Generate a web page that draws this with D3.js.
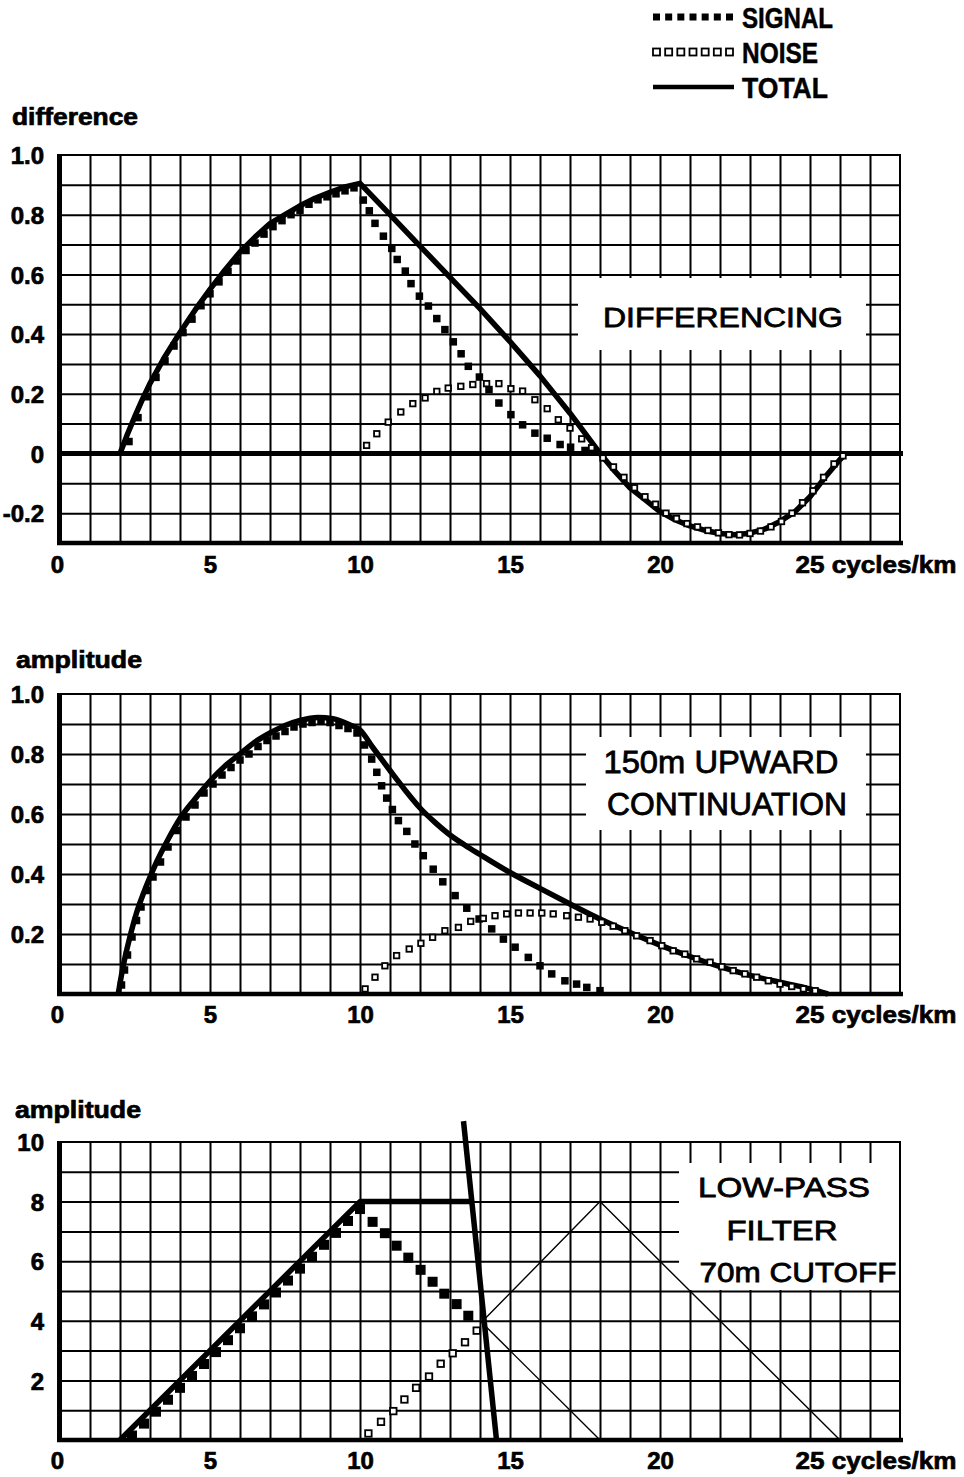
<!DOCTYPE html>
<html><head><meta charset="utf-8">
<script src="https://cdn.jsdelivr.net/npm/d3@7"></script>
<style>body{margin:0;background:#fff;} svg{display:block;}</style>
</head><body><svg id="c" width="964" height="1477"></svg>
<script>
// ---------------- DATA ----------------
const xTicks = [0, 5, 10, 15, 20, 25];
const xTickLabels = ["0", "5", "10", "15", "20", "25 cycles/km"];
const legendItems = ["SIGNAL", "NOISE", "TOTAL"];

// Panel 1: differencing
const p1Title = "difference";
const p1Label = ["DIFFERENCING"];
const p1YTicks = [1.0, 0.8, 0.6, 0.4, 0.2, 0, -0.2];
const p1YTickLabels = ["1.0", "0.8", "0.6", "0.4", "0.2", "0", "-0.2"];
const p1TotalX = [2,2.25,2.5,2.75,3,3.5,4,4.5,5,5.5,6,6.5,7,7.5,8,8.5,9,9.5,10,11,12,13,14,15,16,17,18,18.5,19,19.5,20,20.5,21,21.5,22,22.5,23,23.5,24,24.5,25,25.5,26,26.1];
const p1TotalY = [0,0.065,0.125,0.182,0.235,0.325,0.405,0.48,0.55,0.615,0.675,0.725,0.77,0.80,0.83,0.855,0.875,0.893,0.905,0.80,0.695,0.59,0.485,0.375,0.26,0.135,0,-0.06,-0.115,-0.155,-0.195,-0.222,-0.243,-0.258,-0.268,-0.272,-0.267,-0.253,-0.228,-0.195,-0.145,-0.08,-0.02,-0.01];
const p1SignalX = [2.3,2.6,2.9,3.2,3.5,3.8,4.1,4.4,4.7,5.0,5.3,5.6,5.9,6.2,6.5,6.8,7.1,7.4,7.7,8.0,8.3,8.6,8.9,9.2,9.5,9.8,10.11,10.31,10.5,10.78,11.06,11.24,11.51,11.70,11.98,12.28,12.56,12.83,13.11,13.37,13.61,13.98,14.3,14.63,15.03,15.42,15.83,16.24,16.67,17.02,17.5];
const p1SignalY = [0.04,0.12,0.19,0.255,0.31,0.36,0.405,0.45,0.495,0.535,0.575,0.61,0.645,0.68,0.705,0.735,0.76,0.78,0.80,0.815,0.835,0.85,0.86,0.87,0.88,0.89,0.849,0.813,0.771,0.728,0.687,0.650,0.611,0.569,0.527,0.494,0.452,0.415,0.374,0.334,0.292,0.256,0.214,0.169,0.130,0.096,0.068,0.051,0.030,0.021,0.010];
const p1NoiseX = [10.22,10.56,10.94,11.36,11.76,12.17,12.56,12.94,13.36,13.76,14.22,14.63,15.03,15.42,15.83,16.24,16.61,17.0,17.39,17.72,18.1,18.45,18.8,19.15,19.5,19.85,20.2,20.55,20.9,21.25,21.6,21.95,22.3,22.65,23.0,23.35,23.7,24.05,24.4,24.75,25.1,25.45,25.8,26.1];
const p1NoiseY = [0.027,0.066,0.105,0.139,0.167,0.186,0.208,0.219,0.225,0.231,0.234,0.234,0.217,0.209,0.180,0.150,0.113,0.085,0.049,0.019,-0.015,-0.045,-0.08,-0.115,-0.145,-0.17,-0.2,-0.218,-0.235,-0.246,-0.258,-0.266,-0.272,-0.273,-0.268,-0.26,-0.246,-0.228,-0.2,-0.165,-0.125,-0.08,-0.035,-0.008];

// Panel 2: upward continuation
const p2Title = "amplitude";
const p2Label = ["150m UPWARD", "CONTINUATION"];
const p2YTicks = [1.0, 0.8, 0.6, 0.4, 0.2];
const p2YTickLabels = ["1.0", "0.8", "0.6", "0.4", "0.2"];
const p2TotalX = [1.94,2.1,2.33,2.55,2.78,3.0,3.22,3.6,4,4.5,5,5.5,6,6.5,7,7.5,8,8.6,9.1,9.67,10,10.44,11,11.5,12,12.5,13,13.5,14,15,16,17,18,19,20,21,22,23,24,25,25.6];
const p2TotalY = [0,0.09,0.19,0.27,0.335,0.39,0.44,0.515,0.585,0.65,0.71,0.76,0.80,0.84,0.87,0.895,0.912,0.922,0.918,0.897,0.88,0.82,0.745,0.68,0.62,0.572,0.53,0.496,0.465,0.405,0.352,0.30,0.25,0.205,0.163,0.125,0.091,0.062,0.039,0.017,0];
const p2SignalX = [2.05,2.15,2.25,2.4,2.55,2.7,2.9,3.1,3.35,3.6,3.9,4.2,4.5,4.8,5.1,5.4,5.7,6.0,6.3,6.6,6.9,7.2,7.5,7.8,8.1,8.4,8.7,9.0,9.3,9.6,9.9,10.15,10.39,10.56,10.72,10.89,11.08,11.28,11.56,11.83,12.11,12.44,12.76,13.17,13.56,13.97,14.39,14.78,15.17,15.61,16.0,16.39,16.83,17.22,17.56,18.0];
const p2SignalY = [0.03,0.08,0.13,0.19,0.245,0.29,0.345,0.39,0.44,0.49,0.545,0.59,0.63,0.67,0.70,0.73,0.755,0.78,0.80,0.825,0.845,0.86,0.875,0.89,0.90,0.905,0.91,0.905,0.895,0.885,0.87,0.83,0.783,0.739,0.694,0.653,0.615,0.578,0.542,0.5,0.461,0.416,0.374,0.328,0.286,0.25,0.217,0.183,0.156,0.122,0.094,0.067,0.044,0.033,0.022,0.011];
const p2NoiseX = [10.17,10.5,10.83,11.22,11.64,12.03,12.42,12.83,13.28,13.69,14.11,14.5,14.89,15.28,15.67,16.06,16.44,16.89,17.28,17.67,18.06,18.44,18.83,19.22,19.67,20.06,20.44,20.83,21.22,21.67,22.06,22.44,22.83,23.22,23.61,24.0,24.39,24.78,25.17];
const p2NoiseY = [0.017,0.056,0.094,0.128,0.15,0.169,0.189,0.211,0.222,0.242,0.252,0.261,0.267,0.27,0.27,0.27,0.267,0.261,0.256,0.25,0.239,0.226,0.211,0.194,0.178,0.161,0.144,0.133,0.117,0.106,0.091,0.078,0.067,0.056,0.044,0.033,0.025,0.017,0.011];

// Panel 3: low-pass filter
const p3Title = "amplitude";
const p3Label = ["LOW-PASS", "FILTER", "70m CUTOFF"];
const p3YTicks = [10, 8, 6, 4, 2];
const p3YTickLabels = ["10", "8", "6", "4", "2"];
const p3TotalX = [2, 10, 13.73];
const p3TotalY = [0, 8, 8];
const p3CutoffX = [13.45, 14.55];
const p3CutoffY = [10.7, 0];
const p3AliasAX = [14.05, 18, 26];
const p3AliasAY = [3.95, 8, 0];
const p3AliasBX = [14.05, 18];
const p3AliasBY = [3.95, 0];
const p3SignalX = [2.4,2.8,3.2,3.6,4.0,4.4,4.8,5.2,5.6,6.0,6.4,6.8,7.2,7.6,8.0,8.4,8.8,9.2,9.6,10.0,10.42,10.83,11.22,11.61,12.02,12.42,12.81,13.22,13.61];
const p3SignalY = [0.15,0.55,0.95,1.35,1.75,2.15,2.55,2.95,3.35,3.75,4.15,4.55,4.95,5.35,5.75,6.15,6.55,6.95,7.35,7.75,7.32,6.94,6.52,6.12,5.71,5.31,4.91,4.56,4.17];
const p3NoiseX = [10.28,10.7,11.11,11.48,11.87,12.3,12.69,13.09,13.5,13.89];
const p3NoiseY = [0.22,0.61,0.97,1.36,1.75,2.13,2.56,2.91,3.28,3.67];

// ---------------- DRAWING ----------------
const FONT = "'Liberation Sans', Arial, Helvetica, sans-serif";
const svg = d3.select("#c");
svg.append("rect").attr("width", 964).attr("height", 1477).attr("fill", "#fff");

const x = d3.scaleLinear().domain([0, 28]).range([60, 900]);
const zip = (xs, ys) => xs.map((v, i) => [v, ys[i]]);

// Legend
const legY = d3.scalePoint().domain(legendItems).range([17, 87]);
const legX = d3.scalePoint().domain(d3.range(7)).range([656.5, 729.5]);
const legWidths = {SIGNAL: 91, NOISE: 76, TOTAL: 86};
const leg = svg.append("g");
legendItems.forEach(name => {
  const cy = legY(name);
  if (name === "TOTAL") {
    leg.append("line").attr("x1", 653).attr("x2", 734).attr("y1", cy).attr("y2", cy)
      .attr("stroke", "#000").attr("stroke-width", 4.5);
  } else {
    leg.selectAll(null).data(d3.range(7)).join("rect")
      .attr("x", d => legX(d) - 3.5).attr("y", cy - 3.5)
      .attr("width", 7).attr("height", 7)
      .attr("fill", name === "SIGNAL" ? "#000" : "#fff")
      .attr("stroke", "#000").attr("stroke-width", name === "SIGNAL" ? 0 : 1.8);
  }
  leg.append("text").attr("x", 742).attr("y", cy + 11)
    .attr("font-family", FONT).attr("font-weight", "bold").attr("font-size", 29)
    .attr("stroke", "#000").attr("stroke-width", 0.5)
    .attr("textLength", legWidths[name]).attr("lengthAdjust", "spacingAndGlyphs")
    .text(name);
});

function panel(o) {
  const y = d3.scaleLinear().domain(o.yDomain).range(o.yRange);
  const top = o.yRange[1], bottom = o.yRange[0];
  const g = svg.append("g");

  // vertical grid
  g.append("g").attr("transform", `translate(0,${bottom})`)
    .call(d3.axisBottom(x).tickValues(d3.range(1, 28)).tickSize(-(bottom - top)).tickFormat(""))
    .call(s => s.select(".domain").remove())
    .call(s => s.selectAll("line").attr("stroke", "#000").attr("stroke-width", 2));
  // horizontal grid
  g.append("g").attr("transform", `translate(60,0)`)
    .call(d3.axisLeft(y).tickValues(o.gridY).tickSize(-840).tickFormat(""))
    .call(s => s.select(".domain").remove())
    .call(s => s.selectAll("line").attr("stroke", "#000").attr("stroke-width", 2));
  // top / right border
  g.append("line").attr("x1", 60).attr("x2", 901).attr("y1", top).attr("y2", top)
    .attr("stroke", "#000").attr("stroke-width", 2);
  g.append("line").attr("x1", 900).attr("x2", 900).attr("y1", top).attr("y2", bottom)
    .attr("stroke", "#000").attr("stroke-width", 2);

  // label box (white)
  g.append("rect").attr("x", o.box[0]).attr("y", o.box[1])
    .attr("width", o.box[2] - o.box[0]).attr("height", o.box[3] - o.box[1]).attr("fill", "#fff");

  // thick axes
  g.append("line").attr("x1", 59.5).attr("x2", 59.5).attr("y1", top - 1).attr("y2", bottom + 2)
    .attr("stroke", "#000").attr("stroke-width", 5);
  g.append("line").attr("x1", 57).attr("x2", 903).attr("y1", bottom).attr("y2", bottom)
    .attr("stroke", "#000").attr("stroke-width", 4.5);
  if (o.zeroLine) {
    g.append("line").attr("x1", 57).attr("x2", 903).attr("y1", y(0)).attr("y2", y(0))
      .attr("stroke", "#000").attr("stroke-width", 5);
  }

  // y tick labels
  g.append("g").attr("transform", "translate(60,0)")
    .call(d3.axisLeft(y).tickValues(o.yTicks).tickSize(0).tickPadding(16)
      .tickFormat((d, i) => o.yTickLabels[i]))
    .call(s => s.select(".domain").remove())
    .call(s => s.selectAll("text").attr("font-family", FONT).attr("font-weight", "bold")
      .attr("font-size", 24).attr("fill", "#000").attr("stroke", "#000").attr("stroke-width", 0.7)
      .attr("dy", "0.36em"));

  // x tick labels
  g.append("g").attr("transform", `translate(0,${bottom})`)
    .call(d3.axisBottom(x).tickValues(xTicks).tickSize(0).tickPadding(o.xPad)
      .tickFormat((d, i) => xTickLabels[i]))
    .call(s => s.select(".domain").remove())
    .call(s => s.selectAll("text").attr("font-family", FONT).attr("font-weight", "bold")
      .attr("font-size", 24).attr("fill", "#000").attr("stroke", "#000").attr("stroke-width", 0.7))
    .call(s => s.selectAll(".tick").filter((d, i) => i === 0).select("text").attr("x", -3))
    .call(s => s.selectAll(".tick").filter((d, i) => i === xTicks.length - 1).select("text")
      .attr("text-anchor", "start").attr("x", -15)
      .attr("textLength", 161).attr("lengthAdjust", "spacingAndGlyphs"));

  // axis title
  g.append("text").attr("x", o.title[1]).attr("y", o.title[2])
    .attr("font-family", FONT).attr("font-weight", "bold").attr("font-size", 23)
    .attr("stroke", "#000").attr("stroke-width", 0.7)
    .attr("textLength", 126).attr("lengthAdjust", "spacingAndGlyphs").text(o.title[0]);

  const line = d3.line().x(d => x(d[0])).y(d => y(d[1])).curve(o.curve || d3.curveLinear);

  // thin lines (aliases)
  (o.thin || []).forEach(pts => {
    g.append("path").attr("d", d3.line().x(d => x(d[0])).y(d => y(d[1]))(pts))
      .attr("fill", "none").attr("stroke", "#000").attr("stroke-width", 1.4);
  });

  // total lines
  o.totals.forEach(pts => {
    g.append("path").attr("d", line(pts)).attr("fill", "none").attr("stroke", "#000")
      .attr("stroke-width", 5.5).attr("stroke-linejoin", "round");
  });

  // signal markers
  g.selectAll(null).data(o.signal).join("rect")
    .attr("x", d => x(d[0]) - o.sSize / 2).attr("y", d => y(d[1]) - o.sSize / 2)
    .attr("width", o.sSize).attr("height", o.sSize).attr("fill", "#000");
  // noise markers
  g.selectAll(null).data(o.noise).join("rect")
    .attr("x", d => x(d[0]) - o.nSize / 2).attr("y", d => y(d[1]) - o.nSize / 2)
    .attr("width", o.nSize).attr("height", o.nSize).attr("fill", "#fff")
    .attr("stroke", "#000").attr("stroke-width", 1.8);

  // box text
  o.label.forEach((t, i) => {
    const L = o.labelPos[i];
    g.append("text").attr("x", L[0]).attr("y", L[1]).attr("text-anchor", "middle")
      .attr("font-family", FONT).attr("font-size", o.labelSize)
      .attr("fill", "#000").attr("stroke", "#000").attr("stroke-width", 0.8)
      .attr("textLength", L[2]).attr("lengthAdjust", "spacingAndGlyphs").text(t);
  });
}

panel({
  yDomain: [-0.3, 1.0], yRange: [543, 155],
  gridY: d3.range(-0.2, 0.95, 0.1), yTicks: p1YTicks, yTickLabels: p1YTickLabels,
  zeroLine: true, xPad: 13,
  title: [p1Title, 12, 125],
  box: [578, 278, 866, 350],
  label: p1Label, labelPos: [[723, 327, 240]], labelSize: 28,
  totals: [zip(p1TotalX, p1TotalY)],
  signal: zip(p1SignalX, p1SignalY), noise: zip(p1NoiseX, p1NoiseY),
  sSize: 7.5, nSize: 5.5
});

panel({
  yDomain: [0, 1.0], yRange: [994, 694],
  gridY: d3.range(0.1, 0.95, 0.1), yTicks: p2YTicks, yTickLabels: p2YTickLabels,
  zeroLine: false, xPad: 12,
  title: [p2Title, 16, 668],
  box: [586, 737, 866, 830],
  label: p2Label, labelPos: [[721, 773, 235], [727, 815, 240]], labelSize: 31,
  totals: [zip(p2TotalX, p2TotalY)], curve: d3.curveMonotoneX,
  signal: zip(p2SignalX, p2SignalY), noise: zip(p2NoiseX, p2NoiseY),
  sSize: 7.5, nSize: 5.5
});

panel({
  yDomain: [0, 10], yRange: [1440, 1142],
  gridY: d3.range(1, 10), yTicks: p3YTicks, yTickLabels: p3YTickLabels,
  zeroLine: false, xPad: 12,
  title: [p3Title, 15, 1118],
  box: [679, 1163, 899, 1290],
  label: p3Label, labelPos: [[784, 1197, 172], [782, 1240, 111], [798, 1282, 197]], labelSize: 28,
  totals: [zip(p3TotalX, p3TotalY), zip(p3CutoffX, p3CutoffY)],
  thin: [zip(p3AliasAX, p3AliasAY), zip(p3AliasBX, p3AliasBY)],
  signal: zip(p3SignalX, p3SignalY), noise: zip(p3NoiseX, p3NoiseY),
  sSize: 10, nSize: 6.5
});
</script>
</body></html>
